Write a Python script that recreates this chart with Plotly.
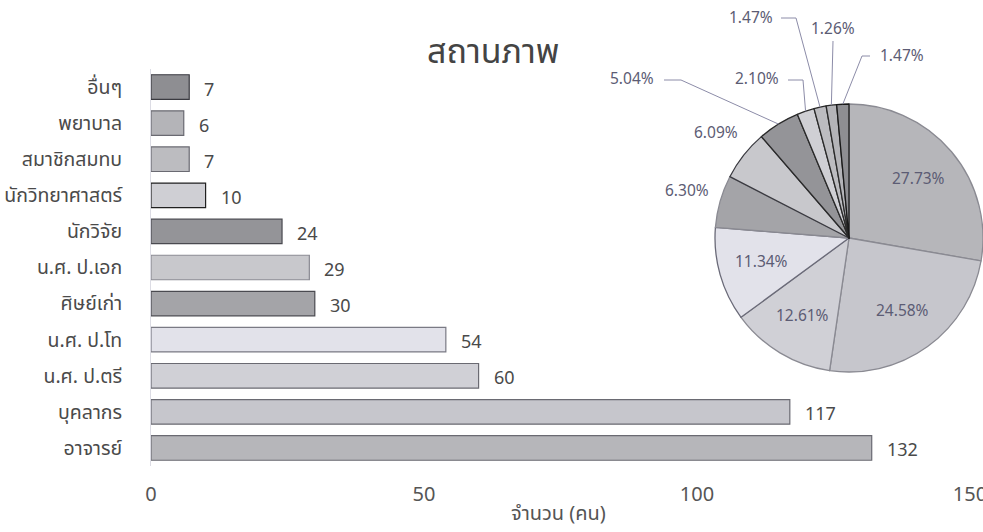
import math
import plotly.graph_objects as go

# Status categories (bottom-to-top on the bar axis, clockwise in the pie)
categories = ["อาจารย์", "บุคลากร", "น.ศ. ป.ตรี", "น.ศ. ป.โท", "ศิษย์เก่า",
              "น.ศ. ป.เอก", "นักวิจัย", "นักวิทยาศาสตร์", "สมาชิกสมทบ", "พยาบาล", "อื่นๆ"]
counts = [132, 117, 60, 54, 30, 29, 24, 10, 7, 6, 7]
x_ticks = [0, 50, 100, 150]

# Grey fills per category
fills = ["#b6b6ba", "#c6c6cc", "#d0d0d6", "#e2e2ea", "#a4a4a8",
         "#c8c8cc", "#949498", "#cfcfd4", "#bcbcc0", "#b4b4b8", "#8e8e92"]
bar_edges = ["#6a6a72", "#6a6a72", "#6a6a72", "#7a7a84", "#4a4a50",
             "#8a8a92", "#4a4a50", "#202020", "#6a6a72", "#6a6a72", "#3a3a40"]
pie_edges = ["#8a8a92", "#8a8a92", "#8a8a92", "#6a6a78", "#8a8a92",
             "#3a3a40", "#2a2a2a", "#2a2a2a", "#2a2a2a", "#2a2a2a", "#1a1a1a"]

W, H = 983, 532
FONT = "Noto Sans Thai, Tahoma, Leelawadee UI, Noto Sans, sans-serif"
TXT = "#4a4a4a"
PCT = "#5c5c74"
LEAD = "#8c8ca8"


def px(x):
    return x / W


def py(y):
    return 1 - y / H


fig = go.Figure()

fig.add_trace(go.Bar(
    x=counts, y=categories, orientation="h",
    marker=dict(color=fills, line=dict(color=bar_edges, width=1.2)),
    width=0.68, showlegend=False, hoverinfo="x+y",
))

# Pie placement (pixel box)
pie_left, pie_right, pie_top, pie_bottom = 715, 983, 102, 374
fig.add_trace(go.Pie(
    values=counts, labels=categories, sort=False, direction="clockwise",
    rotation=0, textinfo="none", showlegend=False,
    marker=dict(colors=fills, line=dict(color=pie_edges, width=1.3)),
    domain=dict(x=[px(pie_left), px(pie_right)], y=[py(pie_bottom), py(pie_top)]),
))

annotations = []
shapes = []

# Value labels beside bars
for c, v in zip(categories, counts):
    annotations.append(dict(x=v, y=c, xref="x", yref="y", text=str(v),
                            showarrow=False, xanchor="left", yanchor="middle",
                            xshift=13, yshift=-3,
                            font=dict(size=18, color=TXT, family=FONT)))

# Percentage labels on the pie
cx = (pie_left + pie_right) / 2
cy = (pie_top + pie_bottom) / 2
R = min(pie_right - pie_left, pie_bottom - pie_top) / 2
total = sum(counts)
cum = 0.0
mids = []
for v in counts:
    mids.append((cum + v / 2) / total * 2 * math.pi)
    cum += v


def polar(a, r):
    return cx + r * math.sin(a), cy - r * math.cos(a)


pct_text = [f"{v / total * 100:.2f}%" for v in counts]
inside_r = 0.68
outside_r = 1.26
# slices labelled with a leader line: label centre, elbow point, line start
leaders = {
    6: ((632, 79), (681, 80), (664, 80)),
    7: ((757, 79), (803, 80), (788, 80)),
    8: ((751, 18), (796, 18), (781, 18)),
    9: ((833, 29), (833, 41), (833, 41)),
    10: ((902, 56), (862, 56), (870, 56)),
}
for i, a in enumerate(mids):
    if i <= 3:
        lx, ly = polar(a, inside_r * R)
    elif i in (4, 5):
        lx, ly = polar(a, outside_r * R)
    else:
        (lx, ly), (ex, ey), (sx, sy) = leaders[i]
        tx, ty = polar(a, R)
        shapes.append(dict(type="path", xref="paper", yref="paper",
                           path=f"M {px(sx)},{py(sy)} L {px(ex)},{py(ey)} L {px(tx)},{py(ty)}",
                           line=dict(color=LEAD, width=1)))
    annotations.append(dict(x=px(lx), y=py(ly), xref="paper", yref="paper",
                            xanchor="center", yanchor="middle",
                            text=pct_text[i], showarrow=False,
                            font=dict(size=15.5, color=PCT, family=FONT)))

# Title and axis title
annotations.append(dict(x=px(493), y=py(52), xref="paper", yref="paper", text="สถานภาพ",
                        xanchor="center", yanchor="middle", showarrow=False,
                        font=dict(size=34, color="#444444", family=FONT)))
annotations.append(dict(x=px(558), y=py(514), xref="paper", yref="paper", text="จำนวน (คน)",
                        xanchor="center", yanchor="middle", showarrow=False,
                        font=dict(size=20, color="#555555", family=FONT)))

fig.update_layout(
    width=W, height=H,
    margin=dict(l=0, r=0, t=0, b=0),
    paper_bgcolor="white", plot_bgcolor="white",
    font=dict(family=FONT, color=TXT),
    xaxis=dict(domain=[px(151), px(970)], range=[0, 150], tickvals=x_ticks,
               showgrid=False, zeroline=False, showline=False,
               tickfont=dict(size=20, color="#555555"), ticklabelstandoff=14,
               ticklabeloverflow="allow", automargin=False, fixedrange=True),
    yaxis=dict(domain=[py(466), py(69)], type="category", categoryorder="array",
               categoryarray=categories, range=[-0.5, len(categories) - 0.5],
               showgrid=False, zeroline=False, showline=True, linecolor="#dcdce4",
               linewidth=1, tickfont=dict(size=19.5, color=TXT), ticklabelstandoff=24,
               automargin=False, fixedrange=True),
    annotations=annotations,
    shapes=shapes,
)

fig.write_html("out.html")
